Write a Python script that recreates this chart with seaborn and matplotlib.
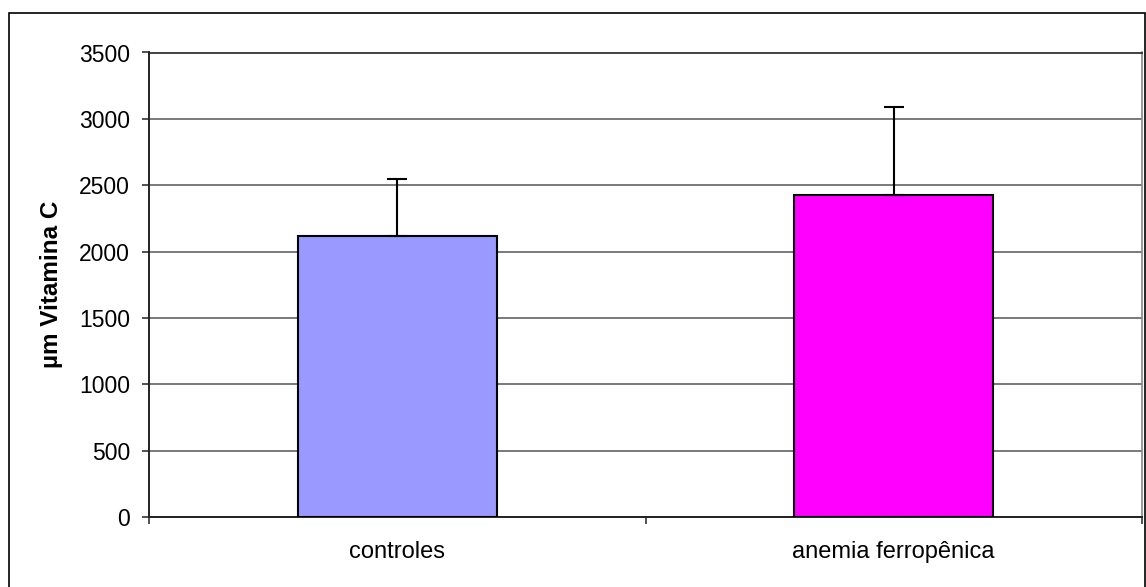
import matplotlib
matplotlib.use("Agg")
import matplotlib.pyplot as plt
import seaborn as sns
import pandas as pd
from matplotlib.patches import Rectangle

# data
grupos = ["controles", "anemia ferropênica"]
media = [2116, 2430]
desvio = [429, 657]
cores = ["#9999FF", "#FF00FF"]
y_ticks = [0, 500, 1000, 1500, 2000, 2500, 3000, 3500]

df = pd.DataFrame({"grupo": grupos, "vitc": media})

sns.set_style("white")
plt.rcParams["font.family"] = ["Liberation Sans", "DejaVu Sans"]
plt.rcParams["text.color"] = "black"
plt.rcParams["xtick.color"] = "black"
plt.rcParams["ytick.color"] = "black"
plt.rcParams["axes.labelcolor"] = "black"

fig = plt.figure(figsize=(11.46, 5.87), dpi=100)
ax = fig.add_axes([149 / 1146, 1 - 517 / 587, (1142 - 149) / 1146, (517 - 52.5) / 587])

sns.barplot(data=df, x="grupo", y="vitc", hue="grupo", palette=cores, width=0.4,
            saturation=1, edgecolor="black", linewidth=1.5, legend=False, ax=ax, zorder=3)
ax.errorbar(range(len(grupos)), media, yerr=[[0] * len(grupos), desvio], fmt="none",
            ecolor="black", elinewidth=1.5, capsize=7, capthick=1.5, zorder=4)

ax.set_xlim(-0.5, 1.5)
ax.set_ylim(0, 3500)
ax.set_yticks(y_ticks)
ax.set_yticklabels([str(v) for v in y_ticks], fontsize=16.5)
ax.yaxis.grid(True, color="#555555", linewidth=1.1, zorder=0)

# category boundaries get tick marks, labels sit between them
ax.set_xticks([-0.5, 0.5, 1.5])
ax.set_xticklabels(["", "", ""])
ax.set_xticks([0, 1], minor=True)
ax.set_xticklabels(grupos, minor=True, fontsize=17)
ax.tick_params(axis="x", which="minor", length=0, pad=17)
ax.tick_params(axis="both", which="major", direction="out", length=5, width=1.2,
               color="#333333", left=True, bottom=True)
ax.tick_params(axis="y", which="major", pad=8.5)
ax.set_xlabel("")
ax.set_ylabel("µm Vitamina C", fontsize=17.5, fontweight="bold", labelpad=12)

for s in ["left", "bottom"]:
    ax.spines[s].set_color("#222222")
    ax.spines[s].set_linewidth(1.4)
for s in ["right", "top"]:
    ax.spines[s].set_color("#888888")
    ax.spines[s].set_linewidth(1.2)
ax.spines["top"].set_color("#222222")

fig.patches.append(Rectangle((9 / 1146, -0.05), (1145 - 9) / 1146, 1.05 - 13 / 587,
                             transform=fig.transFigure, fill=False,
                             edgecolor="black", linewidth=1.2))

fig.savefig("out.png", dpi=100)
